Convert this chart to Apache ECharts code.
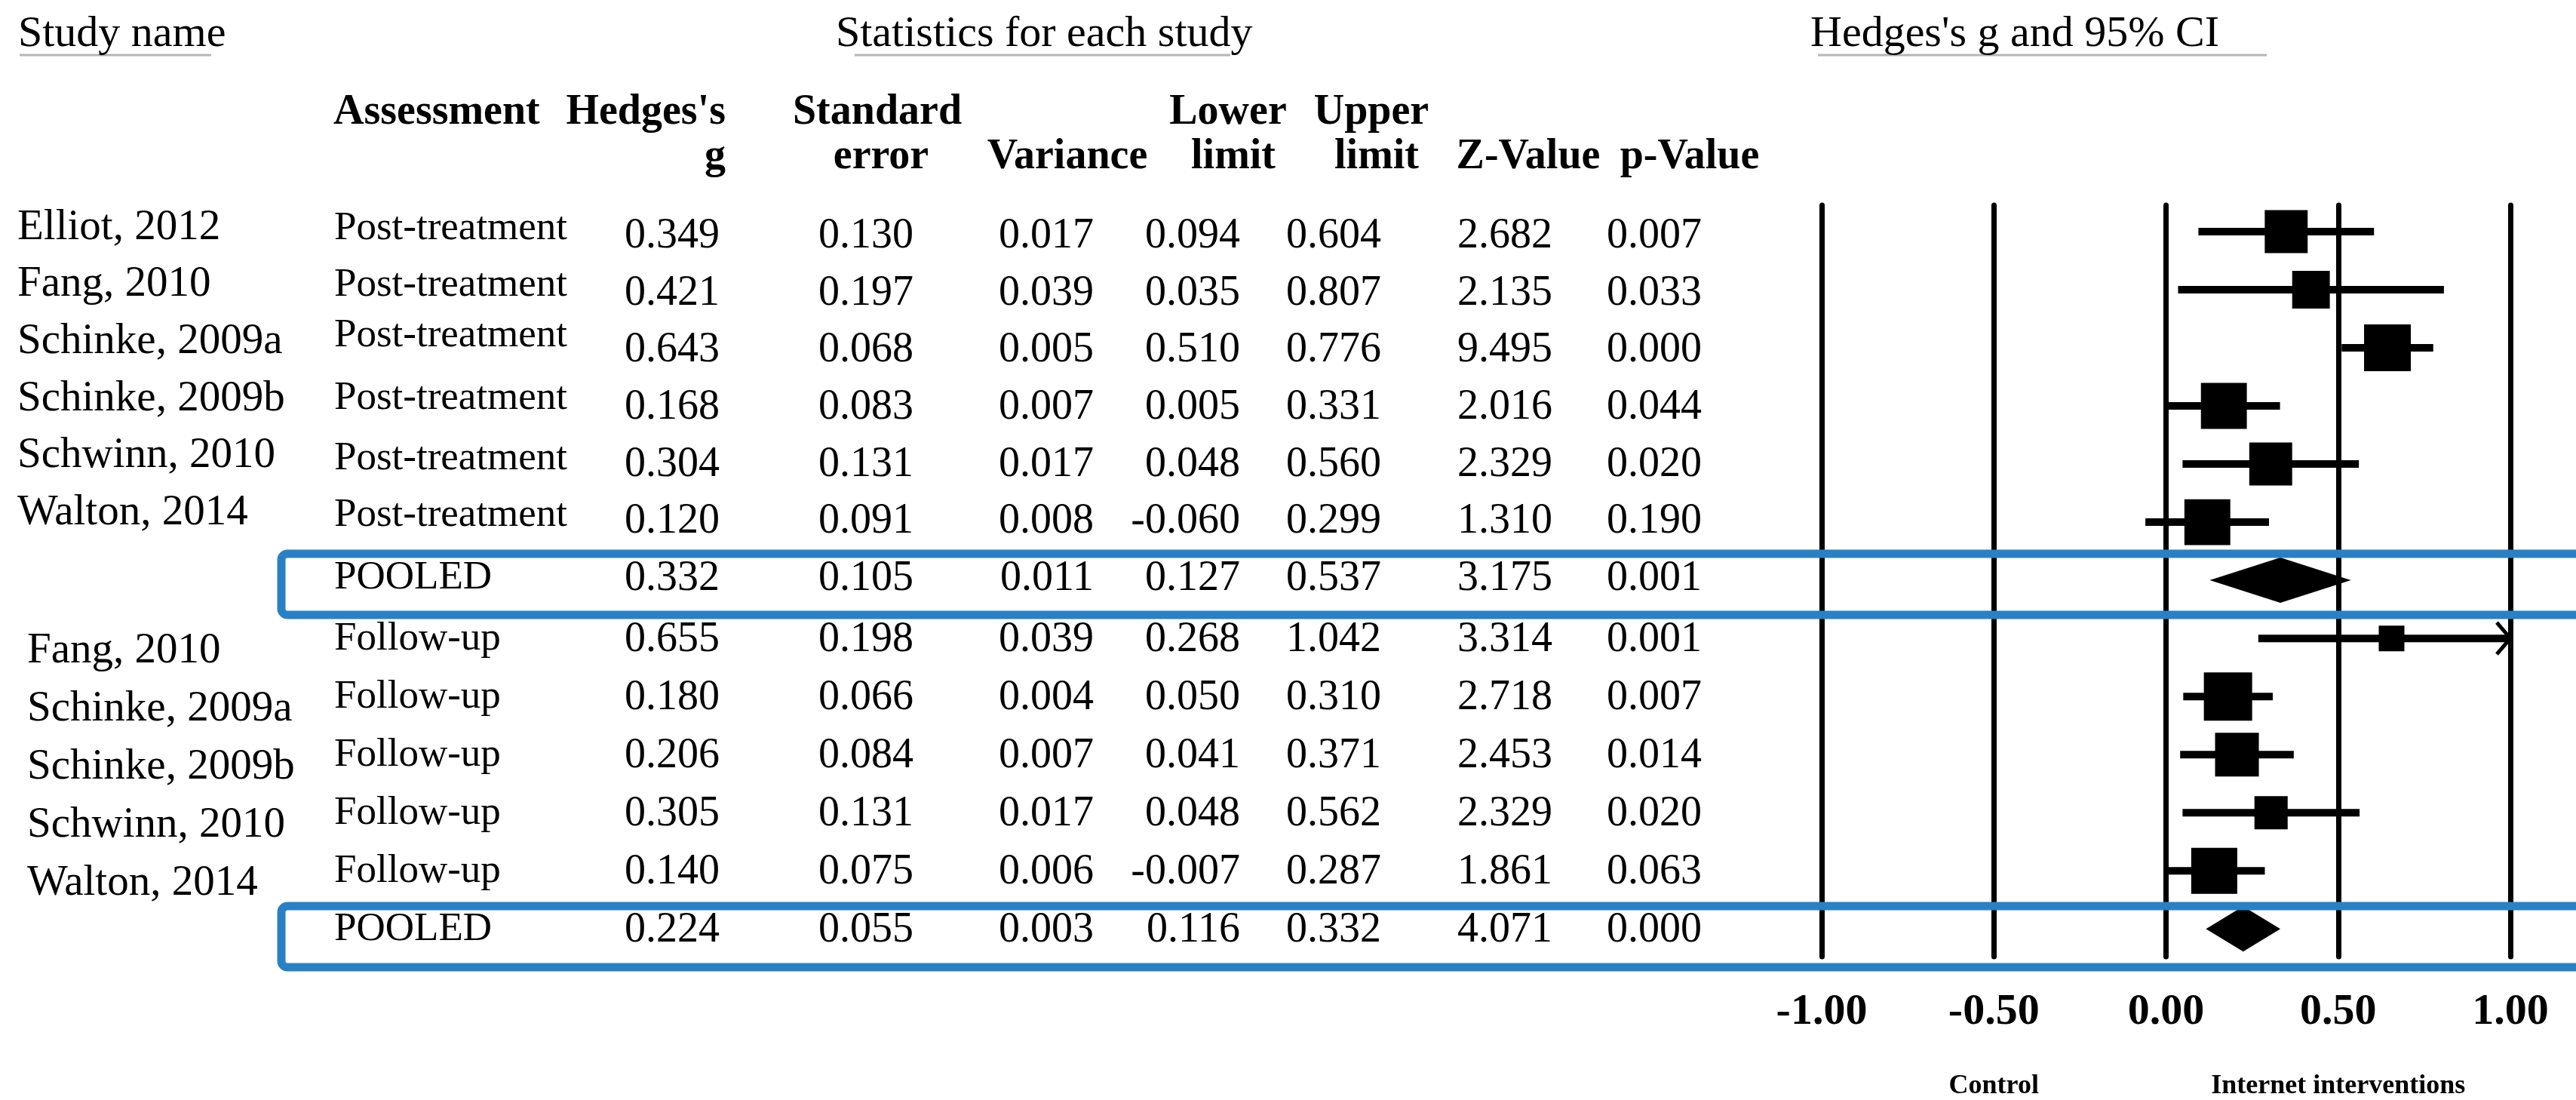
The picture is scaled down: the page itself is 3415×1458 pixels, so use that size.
<!DOCTYPE html>
<html><head><meta charset="utf-8">
<script src="https://cdn.jsdelivr.net/npm/echarts@6/dist/echarts.min.js"></script>
<style>html,body{margin:0;padding:0;background:#fff}#c{width:3415px;height:1458px}</style>
</head><body><div id="c"></div>
<script>
// ---------- data ----------
const postStudies = ['Elliot, 2012','Fang, 2010','Schinke, 2009a','Schinke, 2009b','Schwinn, 2010','Walton, 2014'];
const postG     = [0.349, 0.421, 0.643, 0.168, 0.304, 0.120];
const postSE    = [0.130, 0.197, 0.068, 0.083, 0.131, 0.091];
const postVar   = [0.017, 0.039, 0.005, 0.007, 0.017, 0.008];
const postLower = [0.094, 0.035, 0.510, 0.005, 0.048, -0.060];
const postUpper = [0.604, 0.807, 0.776, 0.331, 0.560, 0.299];
const postZ     = [2.682, 2.135, 9.495, 2.016, 2.329, 1.310];
const postP     = [0.007, 0.033, 0.000, 0.044, 0.020, 0.190];
const postWeight = [16.0, 12.3, 19.0, 18.3, 16.0, 18.3];   // relative weight (box area)

const fuStudies = ['Fang, 2010','Schinke, 2009a','Schinke, 2009b','Schwinn, 2010','Walton, 2014'];
const fuG     = [0.655, 0.180, 0.206, 0.305, 0.140];
const fuSE    = [0.198, 0.066, 0.084, 0.131, 0.075];
const fuVar   = [0.039, 0.004, 0.007, 0.017, 0.006];
const fuLower = [0.268, 0.050, 0.041, 0.048, -0.007];
const fuUpper = [1.042, 0.310, 0.371, 0.562, 0.287];
const fuZ     = [3.314, 2.718, 2.453, 2.329, 1.861];
const fuP     = [0.001, 0.007, 0.014, 0.020, 0.063];
const fuWeight = [8.1, 28.7, 23.6, 13.6, 26.1];

const pooledG     = [0.332, 0.224];
const pooledSE    = [0.105, 0.055];
const pooledVar   = [0.011, 0.003];
const pooledLower = [0.127, 0.116];
const pooledUpper = [0.537, 0.332];
const pooledZ     = [3.175, 4.071];
const pooledP     = [0.001, 0.000];

const assessLabels = ['Post-treatment', 'Follow-up', 'POOLED'];
const axisTicks = [-1.00, -0.50, 0.00, 0.50, 1.00];
const sideLabels = ['Control', 'Internet interventions'];

// ---------- rows ----------
const rows = [];
function addGroup(names, g, se, v, lo, hi, z, p, w, gi, assess, maxSide) {
  const maxW = Math.max.apply(null, w);
  names.forEach((n, i) => rows.push({name: n, assess, g: g[i], se: se[i], v: v[i], lo: lo[i], hi: hi[i], z: z[i], p: p[i],
    kind: 0, side: maxSide * Math.sqrt(w[i] / maxW), grp: gi, k: i}));
  rows.push({name: '', assess: assessLabels[2], g: pooledG[gi], se: pooledSE[gi], v: pooledVar[gi], lo: pooledLower[gi],
    hi: pooledUpper[gi], z: pooledZ[gi], p: pooledP[gi], kind: 1, side: 0, grp: gi, k: names.length});
}
addGroup(postStudies, postG, postSE, postVar, postLower, postUpper, postZ, postP, postWeight, 0, assessLabels[0], 62);
addGroup(fuStudies, fuG, fuSE, fuVar, fuLower, fuUpper, fuZ, fuP, fuWeight, 1, assessLabels[1], 64);

const FONT = '"Liberation Serif","Times New Roman",serif';
const XMIN = axisTicks[0], XMAX = axisTicks[axisTicks.length - 1];

const chart = echarts.init(document.getElementById('c'), null, {renderer: 'canvas'});
chart.setOption({
  backgroundColor: '#ffffff',
  animation: false,
  grid: {left: 2415, width: 913, top: 272, height: 996},
  xAxis: {
    type: 'value', min: XMIN, max: XMAX, interval: 0.5,
    axisLine: {show: false}, axisTick: {show: false},
    splitLine: {show: true, lineStyle: {color: '#000', width: 7, cap: 'round'}},
    axisLabel: {margin: 45, fontFamily: FONT, fontWeight: 'bold', fontSize: 58, color: '#000',
      formatter: v => v.toFixed(2)}
  },
  yAxis: {type: 'value', min: -0.454, max: 12.477, inverse: true, show: false},
  series: [{
    type: 'custom',
    clip: false,
    data: rows.map((r, i) => [r.g, i, r.lo, r.hi, r.kind, r.side]),
    encode: {x: 0, y: 1},
    renderItem: function (params, api) {
      const g = api.value(0), r = api.value(1), lo = api.value(2), hi = api.value(3), kind = api.value(4), side = api.value(5);
      const c = api.coord([g, r]);
      const pl = api.coord([Math.max(lo, XMIN), r]);
      const ph = api.coord([Math.min(hi, XMAX), r]);
      if (kind === 1) {
        return {type: 'polygon', shape: {points: [[pl[0], c[1]], [c[0], c[1] - 30], [ph[0], c[1]], [c[0], c[1] + 30]]},
          style: {fill: '#000'}};
      }
      const ch = [
        {type: 'line', shape: {x1: pl[0], y1: c[1], x2: ph[0], y2: c[1]}, style: {stroke: '#000', lineWidth: 10}},
        {type: 'rect', shape: {x: c[0] - side / 2, y: c[1] - side / 2, width: side, height: side}, style: {fill: '#000'}}
      ];
      if (hi > XMAX) {
        ch.push({type: 'polyline', shape: {points: [[ph[0] - 18, c[1] - 21], [ph[0], c[1]], [ph[0] - 18, c[1] + 21]]},
          style: {stroke: '#000', fill: null, lineWidth: 5}});
      }
      return {type: 'group', children: ch};
    }
  }]
});

// ---------- table text, placed on the same row scale ----------
const rowY = i => chart.convertToPixel({yAxisIndex: 0}, i);
const colX = x => chart.convertToPixel({xAxisIndex: 0}, x);
const G = [];
function txt(s, x, y, size, opt) {
  opt = opt || {};
  G.push({type: 'text', x: x, y: y, z: 50, silent: true,
    style: {text: s, fontFamily: FONT, fontSize: size, fontWeight: opt.bold ? 'bold' : 'normal', fill: '#000',
      align: opt.align || 'left', verticalAlign: 'middle'}});
}
function hline(x1, x2, y, color, w) {
  G.push({type: 'line', z: 40, silent: true, shape: {x1, y1: y, x2, y2: y}, style: {stroke: color, lineWidth: w}});
}
// titles
txt('Study name', 24, 46, 58);
txt('Statistics for each study', 1108, 46, 58);
txt("Hedges's g and 95% CI", 2400, 46, 58);
hline(26, 280, 73, '#b5b5b5', 3);
hline(1133, 1631, 73, '#b5b5b5', 3);
hline(2410, 3005, 73, '#b5b5b5', 3);
// column headers
const H1 = 150, H2 = 209, HS = 56;
txt('Assessment', 442, H1, HS, {bold: true});
txt("Hedges's", 962, H1, HS, {bold: true, align: 'right'});
txt('g', 962, H2, HS, {bold: true, align: 'right'});
txt('Standard', 1163, H1, HS, {bold: true, align: 'center'});
txt('error', 1168, H2, HS, {bold: true, align: 'center'});
txt('Variance', 1415, H2, HS, {bold: true, align: 'center'});
txt('Lower', 1628, H1, HS, {bold: true, align: 'center'});
txt('limit', 1635, H2, HS, {bold: true, align: 'center'});
txt('Upper', 1818, H1, HS, {bold: true, align: 'center'});
txt('limit', 1825, H2, HS, {bold: true, align: 'center'});
txt('Z-Value', 2026, H2, HS, {bold: true, align: 'center'});
txt('p-Value', 2240, H2, HS, {bold: true, align: 'center'});

// layout nudges (pixels) for text rows relative to the plot rows
const valCols = [954, 1211, 1450, 1644, 1831, 2058, 2256];
const postAssessNudge = [-4, -6, -16, -10, -7, -9, -3];
rows.forEach((r, i) => {
  const y = rowY(i);
  if (r.name) txt(r.name, r.grp === 0 ? 23 : 36, y + (r.grp === 0 ? -5 - 1.5 * r.k : 17), 57);
  txt(r.assess, 443, y + (r.grp === 0 ? postAssessNudge[r.k] : 1), 53);
  const vy = r.grp === 0 ? 6.5 - 1.4 * r.k : 2;
  [r.g, r.se, r.v, r.lo, r.hi, r.z, r.p].forEach((v, k) => txt(v.toFixed(3), valCols[k], y + vy, 56, {align: 'right'}));
});

// pooled highlight boxes (annotation)
G.push({type: 'rect', z: 60, silent: true, shape: {x: 373, y: 734, width: 3300, height: 81, r: 8},
  style: {fill: null, stroke: '#2a80c4', lineWidth: 11}});
G.push({type: 'rect', z: 60, silent: true, shape: {x: 373, y: 1201, width: 3300, height: 81, r: 8},
  style: {fill: null, stroke: '#2a80c4', lineWidth: 11}});

// side labels under axis
txt(sideLabels[0], colX(-0.5), 1440, 36, {bold: true, align: 'center'});
txt(sideLabels[1], colX(0.5), 1440, 36, {bold: true, align: 'center'});

chart.setOption({graphic: {elements: G}});
</script></body></html>
